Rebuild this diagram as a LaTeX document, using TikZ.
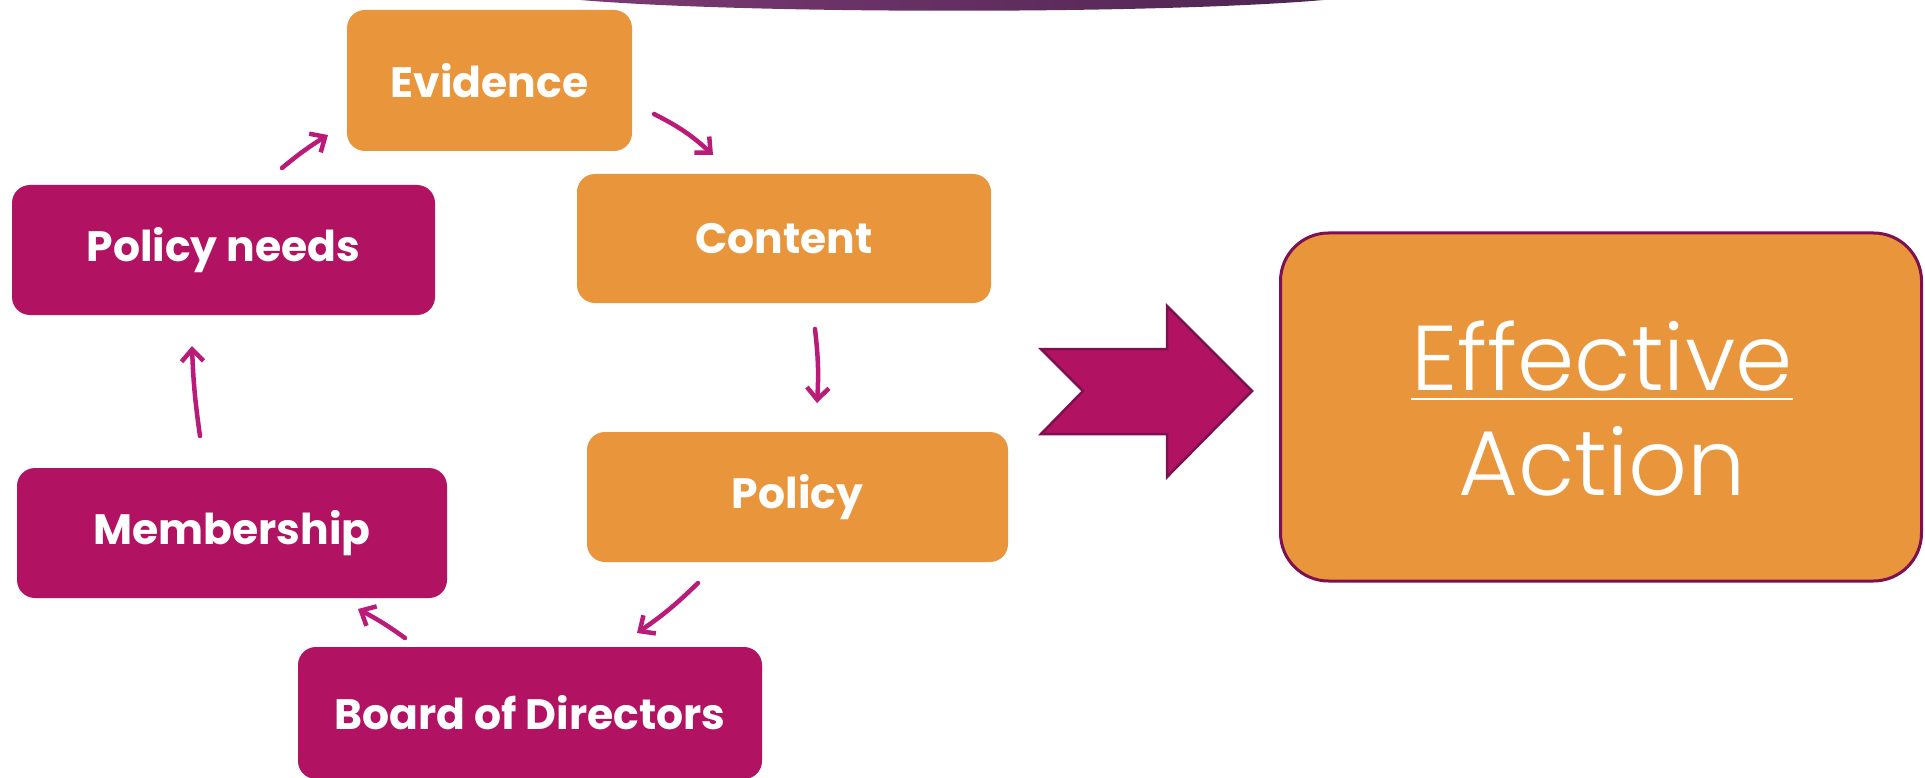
\documentclass[tikz,border=0pt]{standalone}
\usepackage{fontspec}
\setmainfont{Poppins}
\newfontfamily\thinfont{Poppins}[UprightFont=* Light]
\usetikzlibrary{arrows.meta}
\definecolor{boxorange}{HTML}{E9953C}
\definecolor{boxmagenta}{HTML}{B21262}
\definecolor{penpink}{HTML}{BA1A78}
\definecolor{edgeplum}{HTML}{7E1050}
\definecolor{arcleft}{HTML}{7D3A73}
\definecolor{arcright}{HTML}{4B2451}
\tikzset{
  stepbox/.style={rounded corners=18pt, inner sep=0pt, text=white,
    font=\bfseries\fontsize{42.5}{48}\selectfont},
  warm/.style={stepbox, fill=boxorange},
  deep/.style={stepbox, fill=boxmagenta},
  pen/.style={draw=penpink, line width=4.5pt, line cap=round,
    -{Straight Barb[length=12pt,width=22pt,line width=4.5pt]}},
  bigtext/.style={inner sep=0pt, text=white, font=\thinfont\fontsize{92}{100}\selectfont}
}
\begin{document}
\begin{tikzpicture}[x=1pt,y=-1pt]
\useasboundingbox (0,0) rectangle (1925,778);
\clip (0,0) rectangle (1925,778);

% dark arc hanging from the top edge
\shade[left color=arcleft, right color=arcright]
  (559,-2) .. controls (720,15) and (1190,15) .. (1344,-2) -- cycle;

% cycle boxes
\node[warm, minimum width=285pt, minimum height=141pt] (evidence) at (489.5,80.5) {Evidence};
\node[warm, minimum width=414pt, minimum height=129pt] (content) at (784,238.5) {Content};
\node[warm, minimum width=421pt, minimum height=130pt] (policy) at (797.5,497) {Policy};
\node[deep, minimum width=423pt, minimum height=130pt] (needs) at (223.5,250) {Policy needs};
\node[deep, minimum width=430pt, minimum height=130pt] (member) at (232,533) {Membership};
\node[deep, minimum width=464pt, minimum height=132pt] (board) at (530,713) {Board of Directors};

% hand-drawn arrows between the steps
\coordinate (a1s) at (282,168); \coordinate (a1e) at (328,135);
\coordinate (a2s) at (654,114); \coordinate (a2e) at (713,155);
\coordinate (a3s) at (815,329); \coordinate (a3e) at (817,403);
\coordinate (a4s) at (698,583); \coordinate (a4e) at (637,633);
\coordinate (a5s) at (405,638); \coordinate (a5e) at (358,609);
\coordinate (a6s) at (200,436); \coordinate (a6e) at (192,346);
\draw[pen] (a1s) to[bend left=4] (a1e);
\draw[pen] (a2s) to[bend left=8] (a2e);
\draw[pen] (a3s) to[bend left=5] (a3e);
\draw[pen] (a4s) to[bend left=5] (a4e);
\draw[pen] (a5s) to[bend right=4] (a5e);
\draw[pen] (a6s) to[bend left=3] (a6e);

% large notched arrow
\filldraw[fill=boxmagenta, draw=edgeplum, line width=2.5pt, line join=miter]
  (1041,349) -- (1167,349) -- (1167,306) -- (1252,391) -- (1167,477)
  -- (1167,434) -- (1041,434) -- (1083,391) -- cycle;

% outcome box
\node[draw=edgeplum, line width=3pt, fill=boxorange, rounded corners=48pt,
  minimum width=641pt, minimum height=348pt, inner sep=0pt] (outcome) at (1601,407) {};
\node[bigtext, anchor=base] (eff) at (1602,390) {Effective};
\node[bigtext, anchor=base] (act) at (1602,495) {Action};
\draw[white, line width=2.5pt] ([yshift=-9pt]eff.base west) -- ([yshift=-9pt]eff.base east);
\end{tikzpicture}
\end{document}
